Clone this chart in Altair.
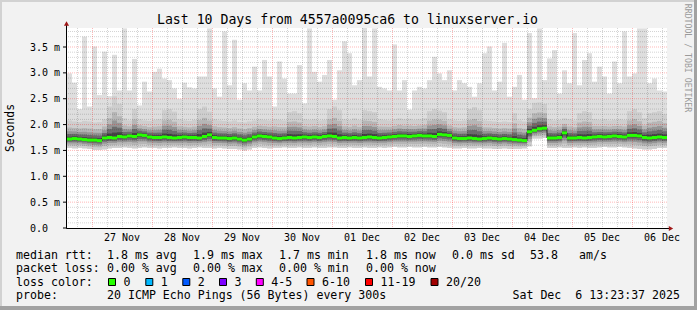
import altair as alt
import pandas as pd

# ---------------- data ----------------
# max ping (top of lightest smoke), ms, one value per 2-hour step over 10 days
top_ms = [2.99, 2.81, 2.30, 3.70, 2.35, 3.51, 2.57, 3.41, 2.55, 3.35,
          2.66, 3.86, 2.66, 3.27, 2.37, 2.83, 2.64, 3.02, 3.08, 2.89,
          2.86, 2.70, 2.50, 2.81, 2.72, 2.70, 2.93, 2.93, 3.86, 2.70,
          2.54, 3.80, 2.76, 3.64, 2.48, 2.80, 2.66, 3.12, 2.66, 3.25,
          2.93, 2.35, 3.22, 2.89, 2.60, 2.60, 3.15, 2.41, 3.86, 3.02,
          2.83, 2.96, 3.25, 2.48, 3.05, 3.61, 3.38,
          2.76, 2.86, 3.90, 2.93, 3.86, 2.73, 2.70, 2.66, 3.55, 2.66,
          2.86, 2.29, 2.66, 2.73, 2.70, 2.86, 3.31, 2.99, 2.86, 3.05,
          2.66, 2.86, 2.80, 2.73, 2.54, 2.80, 3.38, 3.51, 2.66, 2.83,
          3.58, 2.54, 2.73, 2.96, 2.48, 3.77, 2.51, 3.86, 2.86, 3.28,
          3.44, 2.60, 3.05, 2.80, 3.77, 2.76, 3.25, 3.38, 2.83, 3.12,
          2.93, 2.60, 3.22, 2.80, 3.80, 2.93, 2.99, 3.86, 3.86, 2.80,
          2.89, 2.66, 2.64]

# top of the denser smoke
upper_ms = [2.08, 2.06, 2.05, 2.07, 2.06, 2.04, 2.05, 2.10, 2.35, 2.55,
            2.40, 2.12, 2.08, 2.30, 2.10, 2.08, 2.07, 2.09, 2.10, 2.28,
            2.30, 2.25, 2.10, 2.08, 2.07, 2.09, 2.30, 2.35, 2.25, 2.10,
            2.08, 2.07, 2.06, 2.08, 2.05, 2.04, 2.06, 2.08, 2.10, 2.09,
            2.08, 2.10, 2.09, 2.08, 2.24, 2.26, 2.22, 2.10, 2.09, 2.10,
            2.08, 2.09, 2.30, 2.35, 2.28, 2.10, 2.09, 2.12, 2.09, 2.28,
            2.26, 2.24, 2.10, 2.09, 2.08, 2.10, 2.12, 2.10, 2.11, 2.09,
            2.10, 2.12, 2.26, 2.30, 2.27, 2.24, 2.10, 2.08, 2.07, 2.08,
            2.30, 2.34, 2.28, 2.08, 2.07, 2.06, 2.05, 2.06, 2.05, 2.22,
            2.08, 2.06, 2.30, 2.42, 2.43, 2.40, 2.10, 2.08, 2.09, 2.12,
            2.10, 2.08, 2.22, 2.26, 2.24, 2.10, 2.09, 2.10, 2.08, 2.09,
            2.10, 2.09, 2.26, 2.30, 2.24, 2.12, 2.22, 2.24, 2.26, 2.20]

# bottom of the smoke (min ping)
low_ms = [1.55, 1.54, 1.55, 1.54, 1.53, 1.51, 1.51, 1.52, 1.54, 1.55,
          1.55, 1.56, 1.55, 1.54, 1.55, 1.56, 1.55, 1.55, 1.54, 1.55,
          1.55, 1.56, 1.55, 1.55, 1.54, 1.55, 1.56, 1.55, 1.55, 1.54,
          1.55, 1.54, 1.53, 1.53, 1.52, 1.50, 1.52, 1.55, 1.56, 1.55,
          1.54, 1.55, 1.55, 1.56, 1.55, 1.55, 1.56, 1.55, 1.55, 1.56,
          1.55, 1.55, 1.56, 1.56, 1.55, 1.55, 1.56, 1.55, 1.55, 1.56,
          1.55, 1.55, 1.56, 1.55, 1.56, 1.57, 1.56, 1.56, 1.57, 1.56,
          1.56, 1.57, 1.56, 1.56, 1.57, 1.56, 1.55, 1.54, 1.54, 1.55,
          1.54, 1.54, 1.55, 1.54, 1.54, 1.53, 1.53, 1.54, 1.53, 1.53,
          1.53, 1.54, 1.58, 1.73, 1.73, 1.74, 1.55, 1.55, 1.56, 1.55,
          1.55, 1.56, 1.55, 1.56, 1.55, 1.55, 1.56, 1.57, 1.56, 1.56,
          1.57, 1.56, 1.55, 1.54, 1.53, 1.52, 1.52, 1.53, 1.55, 1.55]

# median rtt (green line)
median_ms = [1.72, 1.73, 1.72, 1.71, 1.70, 1.70, 1.69, 1.74, 1.75, 1.74,
             1.77, 1.76, 1.78, 1.77, 1.80, 1.79, 1.76, 1.75, 1.75, 1.76,
             1.75, 1.74, 1.75, 1.76, 1.75, 1.75, 1.74, 1.77, 1.80, 1.75,
             1.74, 1.74, 1.73, 1.74, 1.72, 1.70, 1.72, 1.76, 1.78, 1.77,
             1.76, 1.74, 1.73, 1.74, 1.75, 1.74, 1.75, 1.76, 1.75, 1.76,
             1.75, 1.77, 1.78, 1.77, 1.74, 1.75, 1.74, 1.75, 1.74, 1.75,
             1.76, 1.75, 1.74, 1.75, 1.76, 1.77, 1.78, 1.78, 1.77, 1.78,
             1.79, 1.78, 1.78, 1.77, 1.81, 1.80, 1.79, 1.74, 1.73, 1.73,
             1.74, 1.73, 1.72, 1.73, 1.74, 1.73, 1.72, 1.73, 1.72, 1.71,
             1.70, 1.69, 1.86, 1.89, 1.92, 1.93, 1.74, 1.74, 1.75, 1.84,
             1.74, 1.74, 1.75, 1.74, 1.75, 1.76, 1.77, 1.76, 1.77, 1.78,
             1.77, 1.76, 1.79, 1.79, 1.78, 1.75, 1.74, 1.75, 1.76, 1.75]

day_labels = ["27 Nov", "28 Nov", "29 Nov", "30 Nov", "01 Dec",
              "02 Dec", "03 Dec", "04 Dec", "05 Dec", "06 Dec"]
y_tick_values = [0.0, 0.5, 1.0, 1.5, 2.0, 2.5, 3.0, 3.5]
y_tick_labels = ["0.0", "0.5 m", "1.0 m", "1.5 m", "2.0 m", "2.5 m", "3.0 m", "3.5 m"]

title_text = "Last 10 Days from 4557a0095ca6 to linuxserver.io"
y_title = "Seconds"
side_text = "RRDTOOL / TOBI OETIKER"
rtt_head = "median rtt:"
rtt_stats = ["1.8 ms avg", "1.9 ms max", "1.7 ms min", "1.8 ms now", "0.0 ms sd", "53.8", "am/s"]
loss_head = "packet loss:"
loss_stats = ["0.00 % avg", "0.00 % max", "0.00 % min", "0.00 % now"]
color_head = "loss color:"
loss_labels = ["0", "1", "2", "3", "4-5", "6-10", "11-19", "20/20"]
loss_colors = ["#26ff00", "#00b8ff", "#0059ff", "#7e00ff", "#ff00ff", "#ff5500", "#ff0000", "#a10000"]
probe_head = "probe:"
probe_text = "20 ICMP Echo Pings (56 Bytes) every 300s"
stamp_text = "Sat Dec\u00a0 6 13:23:37 2025"

# ---------------- layout ----------------
MONO = "DejaVu Sans Mono"
PL, PT = 67, 28            # plot origin in the 697x310 image
W, H = 600, 200
HOURS = 240
FIRST_MIDNIGHT = 10        # hours after the start of the graph
PX_PER_MS = 51.71
YMAX = H / PX_PER_MS

n = len(median_ms)
step = HOURS / n
bars = pd.DataFrame({
    "t0": [i * step for i in range(n)],
    "t1": [(i + 1) * step for i in range(n)],
    "top": top_ms, "upper": upper_ms, "low": low_ms, "median": median_ms,
})

# smoke bands: lightest first, darker bands closer to the median
# (name, fraction below median, fraction above median, colour)
levels = [("L0", None, None, "#dedede"), ("L1", 1.0, 1.0, "#cecece"),
          ("L2", 0.72, 0.62, "#b6b6b6"), ("L3", 0.5, 0.42, "#959595"),
          ("L4", 0.32, 0.27, "#6c6c6c"), ("L5", 0.16, 0.13, "#454545")]
rows = []
for name, fb, fa, _c in levels:
    for r in bars.itertuples():
        if fb is None:
            lo, hi = r.low, r.top
        else:
            lo = r.median - (r.median - r.low) * fb
            hi = r.median + (r.upper - r.median) * fa
        rows.append({"t0": r.t0, "t1": r.t1, "lo": lo, "hi": hi, "level": name})
bands = pd.DataFrame(rows)

xs = alt.Scale(domain=[0, HOURS], nice=False, zero=False)
ys = alt.Scale(domain=[0, YMAX], nice=False, zero=False)

smoke = alt.Chart(bands).mark_rect(clip=True).encode(
    x=alt.X("t0:Q", scale=xs, axis=None), x2="t1:Q",
    y=alt.Y("lo:Q", scale=ys, axis=None), y2="hi:Q",
    color=alt.Color("level:N", legend=None,
                    scale=alt.Scale(domain=[l[0] for l in levels], range=[l[3] for l in levels])),
)

# grid (semi-transparent, drawn over the smoke like rrdtool)
midnights = [FIRST_MIDNIGHT + 24 * k for k in range(10)]
minor_h = [h for h in [FIRST_MIDNIGHT - 6 + 6 * k for k in range(41)] if 0 < h < HOURS and h not in midnights]
GRID_MINOR = dict(color="#000000", opacity=0.17, strokeDash=[1, 1], strokeWidth=1)
GRID_MAJOR = dict(color="#ff0000", opacity=0.28, strokeDash=[1, 1], strokeWidth=1)
vmin = alt.Chart(pd.DataFrame({"h": minor_h})).mark_rule(xOffset=0.5, **GRID_MINOR).encode(
    x=alt.X("h:Q", scale=xs, axis=None))
vmaj = alt.Chart(pd.DataFrame({"h": midnights})).mark_rule(xOffset=0.5, **GRID_MAJOR).encode(
    x=alt.X("h:Q", scale=xs, axis=None))
hminor_v = [round(0.1 * k, 1) for k in range(1, 39) if k % 5 != 0]
hmajor_v = [v for v in y_tick_values if v > 0]
hmin = alt.Chart(pd.DataFrame({"v": hminor_v})).mark_rule(**GRID_MINOR).encode(
    y=alt.Y("v:Q", scale=ys, axis=None))
hmaj = alt.Chart(pd.DataFrame({"v": hmajor_v})).mark_rule(**GRID_MAJOR).encode(
    y=alt.Y("v:Q", scale=ys, axis=None))

# median: dark step line under green segments
med_line_df = pd.concat([bars[["t0", "median"]],
                         pd.DataFrame({"t0": [HOURS], "median": [median_ms[-1]]})])
med_line = alt.Chart(med_line_df).mark_line(
    interpolate="step-after", color="#202020", strokeWidth=1
).encode(x=alt.X("t0:Q", scale=xs, axis=None), y=alt.Y("median:Q", scale=ys, axis=None))
med_green = alt.Chart(bars).mark_rule(color="#26ff00", strokeWidth=3).encode(
    x=alt.X("t0:Q", scale=xs, axis=None), x2="t1:Q",
    y=alt.Y("median:Q", scale=ys, axis=None))

one = pd.DataFrame({"k": [0]})


def txt(s, x, y, size=11.6, align="left", baseline="alphabetic", angle=0, color="#000000"):
    return alt.Chart(one).mark_text(
        text=s, align=align, baseline=baseline, font=MONO, fontSize=size,
        color=color, angle=angle
    ).encode(x=alt.value(x - PL), y=alt.value(y - PT))


def rule(x1, y1, x2, y2, color="#000000", w=1):
    return alt.Chart(one).mark_rule(color=color, strokeWidth=w).encode(
        x=alt.value(x1 - PL), x2=alt.value(x2 - PL), y=alt.value(y1 - PT), y2=alt.value(y2 - PT))


def arrow(x, y, shape):
    return alt.Chart(one).mark_point(
        filled=True, color="#a01818", opacity=1, size=26, shape=shape
    ).encode(x=alt.value(x - PL), y=alt.value(y - PT))


# axes
x_axis = rule(66.5, 228.5, 669, 228.5)
y_axis = rule(66.5, 228.5, 66.5, 25)
y_ticks = alt.Chart(pd.DataFrame({"v": y_tick_values})).mark_rule(color="#000000").encode(
    x=alt.value(-4), x2=alt.value(0), y=alt.Y("v:Q", scale=ys, axis=None))
arrows = [arrow(66.5, 23.5, "triangle-up"), arrow(671, 228.5, "triangle-right")]

x_lab = alt.Chart(pd.DataFrame({"h": [m + 12 for m in midnights], "lab": day_labels})).mark_text(
    font=MONO, fontSize=10, align="center", baseline="alphabetic", color="#000000"
).encode(x=alt.X("h:Q", scale=xs, axis=None), y=alt.value(240.8 - PT), text="lab:N")
y_lab = alt.Chart(pd.DataFrame({"v": y_tick_values, "lab": y_tick_labels})).mark_text(
    font=MONO, fontSize=10, align="left", baseline="alphabetic", dy=3.6, color="#000000"
).encode(x=alt.value(30 - PL), y=alt.Y("v:Q", scale=ys, axis=None), text="lab:N")

texts = [
    txt(title_text, 347.5, 24, size=13.2, align="center"),
    txt(y_title, 10.5, 128, size=11.4, align="center", baseline="middle", angle=270),
    txt(side_text, 687, 58, size=8.2, align="center", baseline="middle", angle=90, color="#9a9a9a"),
    txt(rtt_head, 16, 258.5),
    txt(loss_head, 16, 272),
    txt(color_head, 16, 285.7),
    txt(probe_head, 16, 299.3),
    txt(probe_text, 107, 299.3),
    txt(stamp_text, 680, 299.3, align="right"),
]
for s, x in zip(rtt_stats, [107, 193, 279, 366, 452, 530, 579]):
    texts.append(txt(s, x, 258.5))
for s, x in zip(loss_stats, [107, 193, 279, 366]):
    texts.append(txt(s, x, 272))
box_x = [108.5, 145.8, 182.8, 219.5, 256.3, 307, 365.5, 431]
boxes = []
for lab, col, bx in zip(loss_labels, loss_colors, box_x):
    boxes.append(alt.Chart(one).mark_rect(fill=col, stroke="#000000", strokeWidth=1).encode(
        x=alt.value(bx - PL), x2=alt.value(bx + 7 - PL), y=alt.value(278.5 - PT), y2=alt.value(285.5 - PT)))
    texts.append(txt(lab, bx + 15, 285.7))

# frame
frame = [
    alt.Chart(one).mark_rect(color="#d2d2d2").encode(
        x=alt.value(-PL), x2=alt.value(697 - PL), y=alt.value(-PT), y2=alt.value(2 - PT)),
    alt.Chart(one).mark_rect(color="#d2d2d2").encode(
        x=alt.value(-PL), x2=alt.value(2 - PL), y=alt.value(-PT), y2=alt.value(310 - PT)),
    alt.Chart(one).mark_rect(color="#a2a2a2").encode(
        x=alt.value(694 - PL), x2=alt.value(697 - PL), y=alt.value(-PT), y2=alt.value(310 - PT)),
    alt.Chart(one).mark_rect(color="#a2a2a2").encode(
        x=alt.value(-PL), x2=alt.value(697 - PL), y=alt.value(306 - PT), y2=alt.value(310 - PT)),
]

chart = alt.layer(
    smoke, vmin, hmin, vmaj, hmaj, med_line, med_green,
    x_axis, y_axis, y_ticks, *arrows, x_lab, y_lab, *boxes, *texts, *frame
).properties(
    width=W, height=H,
    autosize=alt.AutoSizeParams(type="none"),
    padding={"left": PL, "top": PT, "right": 697 - PL - W, "bottom": 310 - PT - H},
    background="#f2f2f2",
).configure_view(fill="#ffffff", stroke=None)

chart.save("out.html", embed_options={"renderer": "svg", "actions": False})
